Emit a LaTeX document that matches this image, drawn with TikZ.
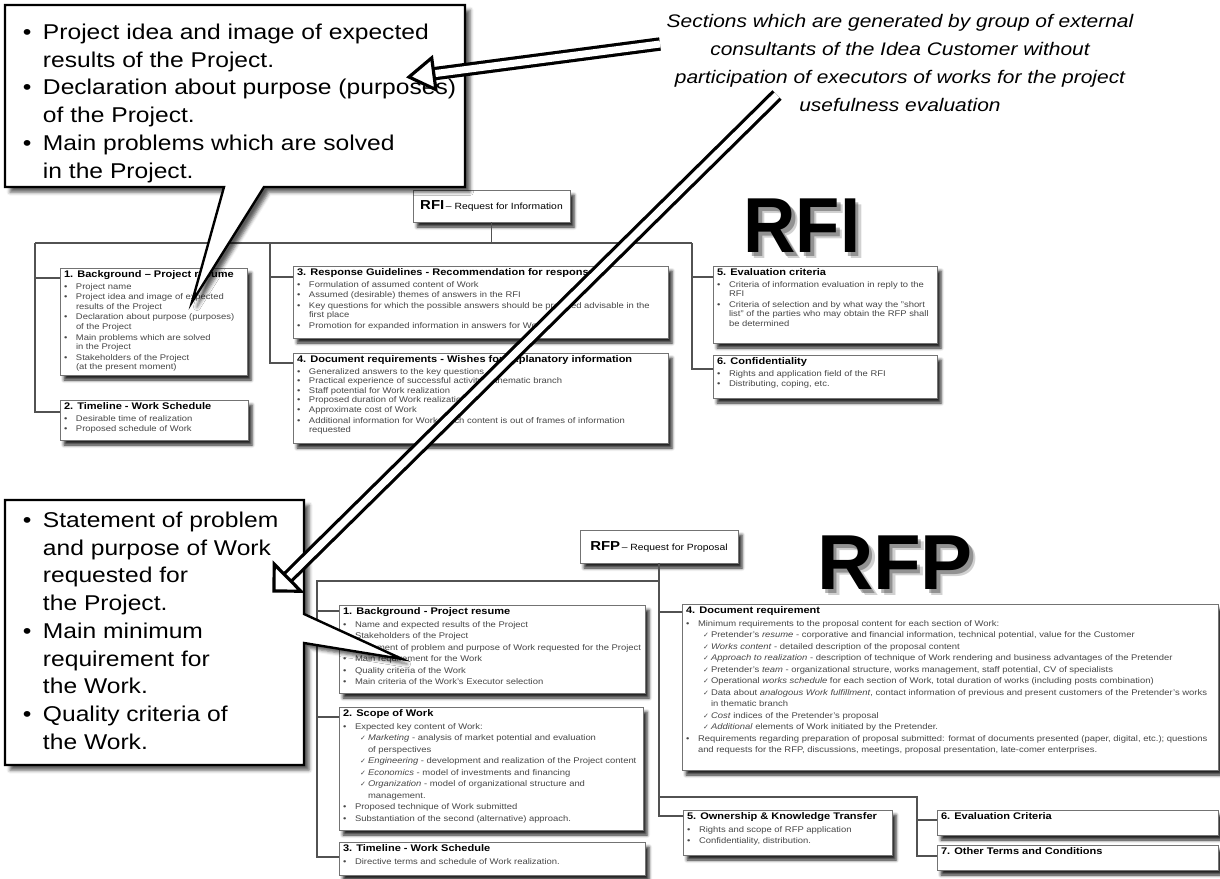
\documentclass[tikz,border=0pt]{standalone}
\usepackage{fontspec}
\setmainfont{Liberation Sans}[FakeStretch=1.15]
\newfontfamily\bigfont{Liberation Sans}
\newfontfamily\djv{DejaVu Sans}
\usetikzlibrary{shadows.blur,calc}

\tikzset{
  every node/.style={inner sep=0pt, outer sep=0pt},
  secbox/.style={draw=black!55, line width=0.9pt, fill=white,
    blur shadow={shadow xshift=4pt, shadow yshift=-5pt, shadow blur radius=3pt, shadow opacity=85}},
  sectext/.style={align=left, text=black!72, anchor=north west},
  conn/.style={draw=black!68, line width=1.1pt},
  callout/.style={draw=black, line width=2.4pt, fill=white, line join=miter,
    blur shadow={shadow xshift=5pt, shadow yshift=-5pt, shadow blur radius=3.5pt, shadow opacity=65}},
  calltext/.style={align=left, font=\fontsize{21.4}{27.7}\selectfont, anchor=north west},
  notetext/.style={align=center, font=\fontsize{18.2}{28}\selectfont\itshape, anchor=north},
  dblarrow/.style={draw=black, double=white, double distance=7pt, line width=3.2pt},
  arrowhd/.style={draw=black, fill=white, line width=3.2pt, line join=miter},
  bigtxt/.style={font={\bigfont\fontsize{78}{78}\selectfont\bfseries}},
}

\newcommand{\hd}[1]{{\color{black}\fontsize{9.6}{11}\selectfont\bfseries #1}}
\newcommand{\bu}{\makebox[12pt][l]{\textbullet}}
\newcommand{\ct}{\hspace*{12pt}}
\newcommand{\ck}{\hspace*{17pt}\makebox[8pt][l]{{\djv\fontsize{7}{7}\selectfont ✓}}}
\newcommand{\cc}{\hspace*{25pt}}
\newcommand{\cbu}{\makebox[20pt][l]{\textbullet}}
\newcommand{\cct}{\hspace*{20pt}}

\newcommand{\secbx}[7][9.6]{%
  \node[secbox, minimum width=#5pt, minimum height=#6pt, anchor=north west] (#2) at (#3,#4) {};
  \node[sectext, font=\fontsize{8.2}{#1}\selectfont] (#2t) at ($(#2.north west)+(4,2.5)$) {#7};
}

\begin{document}
\begin{tikzpicture}[x=1pt,y=-1pt]
\useasboundingbox (0,0) rectangle (1220,878);

% ---------------- RFI
\node[secbox, minimum width=157pt, minimum height=32pt, anchor=north west] (rfi) at (413,190)
  {{\fontsize{13}{13}\selectfont\bfseries RFI}\,{\fontsize{9}{9}\selectfont – Request for Information}};
\coordinate (rbus) at (491.5,243);
\coordinate (rL) at (35,243);
\coordinate (rM) at (270,243);
\coordinate (rR) at (692,243);

\secbx{b1}{60}{268}{187}{107}{\hd{1. Background – Project resume}\\[2pt]
\bu Project name\\[1pt]
\bu Project idea and image of expected\\
\ct results of the Project\\[1pt]
\bu Declaration about purpose (purposes)\\
\ct of the Project\\[1pt]
\bu Main problems which are solved\\
\ct in the Project\\[1pt]
\bu Stakeholders of the Project\\
\ct (at the present moment)}

\secbx{b2}{60}{400}{188}{40}{\hd{2. Timeline - Work Schedule}\\[2pt]
\bu Desirable time of realization\\[1pt]
\bu Proposed schedule of Work}

\secbx{b3}{293}{266}{375}{72}{\hd{3. Response Guidelines - Recommendation for response}\\[2pt]
\bu Formulation of assumed content of Work\\[1pt]
\bu Assumed (desirable) themes of answers in the RFI\\[1pt]
\bu Key questions for which the possible answers should be provided advisable in the\\
\ct first place\\[1pt]
\bu Promotion for expanded information in answers for Work}

\secbx{b4}{293}{353}{375}{90}{\hd{4. Document requirements - Wishes for explanatory information}\\[2pt]
\bu Generalized answers to the key questions\\
\bu Practical experience of successful activity in thematic branch\\
\bu Staff potential for Work realization\\
\bu Proposed duration of Work realization\\
\bu Approximate cost of Work\\[1pt]
\bu Additional information for Work which content is out of frames of information\\
\ct requested}

\secbx{b5}{713}{266}{224}{77}{\hd{5. Evaluation criteria}\\[2pt]
\bu Criteria of information evaluation in reply to the\\
\ct RFI\\[1pt]
\bu Criteria of selection and by what way the "short\\
\ct list" of the parties who may obtain the RFP shall\\
\ct be determined}

\secbx{b6}{713}{355}{224}{43}{\hd{6. Confidentiality}\\[2pt]
\bu Rights and application field of the RFI\\[1pt]
\bu Distributing, coping, etc.}

\draw[conn] (rfi.south) -- (rbus);
\draw[conn] (rL) -- (rR);
\draw[conn] (rL) |- ($(b1.north west)+(0,10)$);
\draw[conn] (rL) |- ($(b2.north west)+(0,12)$);
\draw[conn] (rM) |- ($(b3.north west)+(0,11)$);
\draw[conn] (rM) |- ($(b4.north west)+(0,10)$);
\draw[conn] (rR) |- ($(b5.north west)+(0,11)$);
\draw[conn] (rR) |- ($(b6.north west)+(0,14)$);

% big RFI with soft shadow
\foreach \d/\o [count=\i] in {6/0.18,3.5/0.3}{
  \node[bigtxt, text=black, opacity=\o] (rfish\i) at (802+\d,226+\d) {\scalebox{0.93}[1]{RFI}};
}
\node[bigtxt] (rfibig) at (802,226) {\scalebox{0.93}[1]{RFI}};

% ---------------- RFP
\node[secbox, minimum width=158pt, minimum height=33pt, anchor=north west] (rfp) at (580,530)
  {{\fontsize{13}{13}\selectfont\bfseries RFP}\,{\fontsize{9}{9}\selectfont – Request for Proposal}};
\coordinate (pbus) at (659,581);
\coordinate (pL) at (317,581);
\coordinate (pR) at (659,797);
\coordinate (pRR) at (917,797);

\secbx[11.5]{p1}{339}{605}{306}{88}{\hd{1. Background - Project resume}\\[1.5pt]
\bu Name and expected results of the Project\\
\bu Stakeholders of the Project\\
\bu Statement of problem and purpose of Work requested for the Project\\
\bu Main requirement for the Work\\
\bu Quality criteria of the Work\\
\bu Main criteria of the Work's Executor selection}

\secbx[11.5]{p2}{339}{707}{304}{123}{\hd{2. Scope of Work}\\[1.5pt]
\bu Expected key content of Work:\\
\ck\textit{Marketing} - analysis of market potential and evaluation\\
\cc of perspectives\\
\ck\textit{Engineering} - development and realization of the Project content\\
\ck\textit{Economics} - model of investments and financing\\
\ck\textit{Organization} - model of organizational structure and\\
\cc management.\\
\bu Proposed technique of Work submitted\\
\bu Substantiation of the second (alternative) approach.}

\secbx[11.5]{p3}{339}{842}{306}{33}{\hd{3. Timeline - Work Schedule}\\[1.5pt]
\bu Directive terms and schedule of Work realization.}

\secbx[11.5]{p4}{682}{604}{536}{166}{\hd{4. Document requirement}\\[1.5pt]
\bu Minimum requirements to the proposal content for each section of Work:\\
\ck Pretender's \textit{resume} - corporative and financial information, technical potential, value for the Customer\\
\ck\textit{Works content} - detailed description of the proposal content\\
\ck\textit{Approach to realization} - description of technique of Work rendering and business advantages of the Pretender\\
\ck Pretender's \textit{team} - organizational structure, works management, staff potential, CV of specialists\\
\ck Operational \textit{works schedule} for each section of Work, total duration of works (including posts combination)\\
\ck Data about \textit{analogous Work fulfillment}, contact information of previous and present customers of the Pretender's works\\
\cc in thematic branch\\
\ck\textit{Cost} indices of the Pretender's proposal\\
\ck\textit{Additional} elements of Work initiated by the Pretender.\\
\bu Requirements regarding preparation of proposal submitted: format of documents presented (paper, digital, etc.); questions\\
\ct and requests for the RFP, discussions, meetings, proposal presentation, late-comer enterprises.}

\secbx[11.5]{p5}{683}{810}{209}{45}{\hd{5. Ownership \& Knowledge Transfer}\\[1.5pt]
\bu Rights and scope of RFP application\\
\bu Confidentiality, distribution.}

\secbx{p6}{937}{810}{281}{25}{\hd{6. Evaluation Criteria}}
\secbx{p7}{937}{845}{281}{25}{\hd{7. Other Terms and Conditions}}

\draw[conn] (rfp.south) |- ($(p5.north west)+(0,6)$);
\draw[conn] (rfp.south) |- ($(p4.north west)+(0,8)$);
\draw[conn] (pbus) -- (pL) |- ($(p3.north west)+(0,15)$);
\draw[conn] (pL) |- ($(p1.north west)+(0,6)$);
\draw[conn] (pL) |- ($(p2.north west)+(0,10)$);
\draw[conn] (pR) -- (pRR) |- ($(p7.north west)+(0,11)$);
\draw[conn] (pRR) |- ($(p6.north west)+(0,10)$);

% big RFP with soft shadow
\foreach \d/\o [count=\i] in {6/0.18,3.5/0.3}{
  \node[bigtxt, text=black, opacity=\o] (rfpsh\i) at (895+\d,563+\d) {RFP};
}
\node[bigtxt] (rfpbig) at (895,563) {RFP};

% ---------------- callouts
\coordinate (c1tip) at (192,302);
\draw[callout] (5,5) -- (465,5) -- (465,187) -- (264,187) -- (c1tip) -- (224,187) -- (5,187) -- cycle;
\node[calltext] (c1t) at (23,24) {\cbu Project idea and image of expected\\
\cct results of the Project.\\
\cbu Declaration about purpose (purposes)\\
\cct of the Project.\\
\cbu Main problems which are solved\\
\cct in the Project.};

\coordinate (c2tip) at (402,659);
\draw[callout] (5,500) -- (304,500) -- (304,614) -- (c2tip) -- (304,643) -- (304,765) -- (5,765) -- cycle;
\node[calltext] (c2t) at (23,512) {\cbu Statement of problem\\
\cct and purpose of Work\\
\cct requested for\\
\cct the Project.\\
\cbu Main minimum\\
\cct requirement for\\
\cct the Work.\\
\cbu Quality criteria of\\
\cct the Work.};

% ---------------- note
\node[notetext] (note) at (900,14) {Sections which are generated by group of external\\
consultants of the Idea Customer without\\
participation of executors of works for the project\\
usefulness evaluation};

% ---------------- double arrows
\coordinate (a1s) at (660,44);
\coordinate (a1t) at (409,77);
\coordinate (a1b) at ($(a1t)!25pt!(a1s)$);
\draw[dblarrow] (a1s) -- (a1b);
\draw[arrowhd] ($(a1b)!16pt!90:(a1t)$) -- (a1t) -- ($(a1b)!16pt!-90:(a1t)$) -- cycle;

\coordinate (a2s) at (777,95);
\coordinate (a2t) at (274,591);
\coordinate (a2b) at ($(a2t)!19pt!(a2s)$);
\draw[dblarrow] (a2s) -- (a2b);
\draw[arrowhd] ($(a2b)!19pt!90:(a2t)$) -- (a2t) -- ($(a2b)!19pt!-90:(a2t)$) -- cycle;

\end{tikzpicture}
\end{document}
